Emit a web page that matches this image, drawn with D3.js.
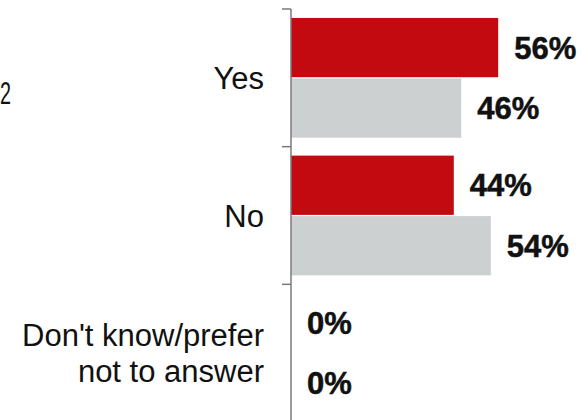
<!DOCTYPE html>
<html>
<head>
<meta charset="utf-8">
<script src="https://cdn.jsdelivr.net/npm/d3@7"></script>
<style>
  html, body { margin: 0; padding: 0; background: #fff; }
  svg { display: block; }
  text { font-family: "Liberation Sans", Arial, sans-serif; fill: #111; }
</style>
</head>
<body>
<svg id="chart" width="582" height="420"></svg>
<script>
// ---- data ----
const categories = ["Yes", "No", "Don't know/prefer\nnot to answer"];
const seriesNames = ["current", "previous"];
const currentValues = [56, 44, 0];
const previousValues = [46, 54, 0];
const seriesColors = ["#c20a10", "#cdd0d0"];

const svg = d3.select("#chart");
const W = 582, H = 420;
const axisX = 291;

const rows = categories.map((c, i) => ({
  cat: c,
  vals: [
    { s: seriesNames[0], v: currentValues[i], color: seriesColors[0] },
    { s: seriesNames[1], v: previousValues[i], color: seriesColors[1] }
  ]
}));

const y0 = d3.scaleBand()
  .domain(categories)
  .range([9, 422])
  .paddingInner(0.13)
  .paddingOuter(0.065);

const y1 = d3.scaleBand()
  .domain(seriesNames)
  .range([0, y0.bandwidth()])
  .paddingInner(0.02);

const x = d3.scaleLinear().domain([0, 100]).range([axisX, axisX + 370]);

// partially visible legend/title text at the far left
svg.append("text")
  .attr("x", 0).attr("y", 104)
  .attr("textLength", 11)
  .attr("lengthAdjust", "spacingAndGlyphs")
  .style("font-size", "31px")
  .text("2");

// bars
const g = svg.append("g");
const groups = g.selectAll("g.cat").data(rows).join("g")
  .attr("class", "cat")
  .attr("transform", d => `translate(0,${y0(d.cat)})`);

groups.selectAll("rect").data(d => d.vals.filter(v => v.v > 0)).join("rect")
  .attr("x", x(0))
  .attr("y", d => y1(d.s))
  .attr("width", d => x(d.v) - x(0))
  .attr("height", y1.bandwidth())
  .attr("fill", d => d.color);

// value labels
groups.selectAll("text.val").data(d => d.vals).join("text")
  .attr("class", "val")
  .attr("x", d => x(d.v) + 16)
  .attr("y", d => y1(d.s) + y1.bandwidth() / 2 + 11)
  .style("font-size", "31px")
  .style("font-weight", "bold")
  .style("stroke", "#111")
  .style("stroke-width", "0.5px")
  .text(d => d.v + "%");

// axis line with ticks at category boundaries
const step = y0.step();
const boundaries = categories.map(c => y0(c) - y0.paddingInner() * step / 2);
const axisG = svg.append("g");
axisG.append("line")
  .attr("x1", axisX).attr("x2", axisX)
  .attr("y1", boundaries[0]).attr("y2", H + 5)
  .attr("stroke", "#7a7a7a").attr("stroke-width", 1.5);
axisG.selectAll("line.tick").data(boundaries).join("line")
  .attr("class", "tick")
  .attr("x1", axisX - 9).attr("x2", axisX)
  .attr("y1", d => d).attr("y2", d => d)
  .attr("stroke", "#7a7a7a").attr("stroke-width", 1.5);

// category labels
const lineH = 36;
svg.selectAll("text.cat").data(categories).join("text")
  .attr("class", "cat")
  .attr("text-anchor", "end")
  .style("font-size", "31px")
  .each(function(d) {
    const lines = d.split("\n");
    const cy = y0(d) + y0.bandwidth() / 2;
    const first = cy - (lines.length - 1) * lineH / 2 + 11;
    d3.select(this).selectAll("tspan").data(lines).join("tspan")
      .attr("x", 264)
      .attr("y", (l, i) => first + i * lineH)
      .text(l => l);
  });
</script>
</body>
</html>
